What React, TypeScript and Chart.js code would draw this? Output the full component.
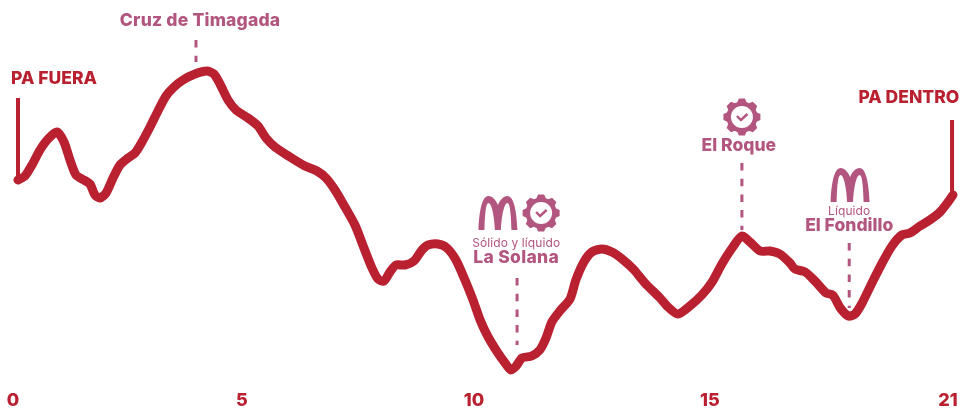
import React, { useEffect, useRef } from "react";
import { Chart, registerables } from "chart.js";

Chart.register(...registerables);

const distanceKm = [0,.157,.314,.494,.674,.876,1.033,1.168,1.303,1.482,1.617,1.729,1.842,1.977,2.134,2.291,2.471,2.628,2.785,2.965,3.144,3.324,3.504,3.706,3.975,4.245,4.402,4.537,4.717,4.896,5.166,5.391,5.570,5.772,6.109,6.446,6.715,6.918,7.120,7.344,7.569,7.771,7.951,8.086,8.220,8.355,8.490,8.692,8.894,9.074,9.209,9.433,9.635,9.837,10.04,10.22,10.38,10.56,10.78,10.94,11.07,11.19,11.32,11.54,11.72,11.86,11.99,12.17,12.40,12.53,12.71,12.89,13.12,13.34,13.57,13.84,14.08,14.42,14.60,14.82,15.09,15.36,15.59,15.81,16.04,16.26,16.44,16.67,16.89,17.11,17.34,17.45,17.68,17.90,18.15,18.30,18.47,18.65,18.80,18.96,19.18,19.41,19.63,19.85,20.03,20.26,20.48,20.71,20.89,21];
const elevation = [195,199,210,225,236,243,233,215,200,195,191,180,177,182,197,210,217,222,233,248,264,279,288,295,301,304,301,291,275,265,257,249,237,228,218,209,204,197,185,168,150,127,107,96,94,103,110,110,114,125,130,131,127,115,95,75,55,38,22,12,5,9,17,19,25,37,53,64,76,95,113,123,126,123,116,105,92,77,68,61,69,80,93,111,127,139,133,124,124,121,112,106,103,94,82,80,67,59,61,72,92,112,129,140,142,149,155,163,173,180];

const tickLabels = ["0", "5", "10", "15", "21"];
const tickPositions = [-0.11, 5.03, 10.24, 15.54, 20.89];

const startPost = [{ x: 0, y: 277 }, { x: 0, y: 193 }];
const finishPost = [{ x: 20.98, y: 255 }, { x: 20.98, y: 180 }];
const markerKm = [3.998, 11.21, 16.26, 18.67];
const markerTop = [335, 97, 212, 132];
const markerBottom = [313, 30, 145, 67];

const X_MIN = -0.404;
const X_MAX = 21.383;

const CRIMSON = "#b92030";
const PINK = "#b2557f";
const FONT = "Inter, 'Noto Sans', sans-serif";

const texts = [
  { t: "PA FUERA", km: 0.81, el: 296, size: 17.5, w: 800, c: CRIMSON, sp: 0 },
  { t: "Cruz de Timagada", km: 4.09, el: 354, size: 17.5, w: 800, c: PINK, sp: 0.2 },
  { t: "PA DENTRO", km: 20.01, el: 277, size: 17.5, w: 800, c: CRIMSON, sp: 0 },
  { t: "Sólido y líquido", km: 11.19, el: 132, size: 12, w: 400, c: PINK, sp: 0.1 },
  { t: "La Solana", km: 11.19, el: 117, size: 17.5, w: 800, c: PINK, sp: 0.3 },
  { t: "El Roque", km: 16.19, el: 229, size: 17.5, w: 800, c: PINK, sp: 0 },
  { t: "Líquido", km: 18.67, el: 164, size: 12, w: 400, c: PINK, sp: 0.1 },
  { t: "El Fondillo", km: 18.67, el: 149, size: 17.5, w: 800, c: PINK, sp: 0 },
];
const arches = [{ km: 10.78, el: 162 }, { km: 18.69, el: 190 }];
const gears = [{ km: 11.75, el: 162 }, { km: 16.26, el: 258 }];

function drawArch(ctx: CanvasRenderingContext2D, x: number, y: number) {
  ctx.save();
  ctx.translate(x, y);
  ctx.fillStyle = PINK;
  ctx.beginPath();
  ctx.moveTo(-19.5, 17);
  ctx.bezierCurveTo(-18.5, -6, -15, -17, -9.5, -17);
  ctx.bezierCurveTo(-5.5, -17, -2, -13, 0, -8);
  ctx.bezierCurveTo(2, -13, 5.5, -17, 9.5, -17);
  ctx.bezierCurveTo(15, -17, 18.5, -6, 19.5, 17);
  ctx.lineTo(13.5, 17);
  ctx.bezierCurveTo(13, 0, 12, -10, 9.5, -10);
  ctx.bezierCurveTo(6, -10, 3.5, 5, 3, 17);
  ctx.lineTo(-3, 17);
  ctx.bezierCurveTo(-3.5, 5, -6, -10, -9.5, -10);
  ctx.bezierCurveTo(-12, -10, -13, 0, -13.5, 17);
  ctx.closePath();
  ctx.fill();
  ctx.restore();
}

function drawGear(ctx: CanvasRenderingContext2D, x: number, y: number) {
  ctx.save();
  ctx.translate(x, y);
  ctx.fillStyle = PINK;
  ctx.beginPath();
  ctx.arc(0, 0, 15.5, 0, Math.PI * 2);
  ctx.fill();
  for (let i = 0; i < 8; i++) {
    ctx.save();
    ctx.rotate((i * Math.PI) / 4);
    ctx.beginPath();
    ctx.moveTo(-5, -14);
    ctx.lineTo(-3, -18.5);
    ctx.lineTo(3, -18.5);
    ctx.lineTo(5, -14);
    ctx.closePath();
    ctx.fill();
    ctx.restore();
  }
  ctx.fillStyle = "#ffffff";
  ctx.beginPath();
  ctx.arc(0, 0, 11, 0, Math.PI * 2);
  ctx.fill();
  ctx.strokeStyle = PINK;
  ctx.lineWidth = 2.4;
  ctx.beginPath();
  ctx.moveTo(-5, -1);
  ctx.lineTo(-1, 3);
  ctx.lineTo(5.5, -3);
  ctx.stroke();
  ctx.restore();
}

const fullWidthPlugin = {
  id: "fullWidthAxis",
  afterLayout(chart: any) {
    const x = chart.scales.x;
    x.min = X_MIN;
    x.max = X_MAX;
    x.left = 0;
    x.right = chart.width;
    x.width = chart.width;
    x.configure();
    chart.chartArea.left = 0;
    chart.chartArea.right = chart.width;
    chart.chartArea.width = chart.width;
  },
};

const labelsPlugin = {
  id: "routeLabels",
  afterDatasetsDraw(chart: any) {
    const { ctx, scales } = chart;
    const px = (km: number) => scales.x.getPixelForValue(km);
    const py = (el: number) => scales.y.getPixelForValue(el);
    ctx.save();
    ctx.textAlign = "center";
    ctx.textBaseline = "middle";
    for (const a of texts) {
      ctx.font = `${a.w} ${a.size}px ${FONT}`;
      ctx.fillStyle = a.c;
      (ctx as any).letterSpacing = `${a.sp}px`;
      ctx.fillText(a.t, px(a.km), py(a.el));
    }
    ctx.restore();
    arches.forEach((a) => drawArch(ctx, px(a.km), py(a.el)));
    gears.forEach((g) => drawGear(ctx, px(g.km), py(g.el)));
  },
};

export default function App() {
  const ref = useRef<HTMLCanvasElement>(null);
  useEffect(() => {
    document.body.style.margin = "0";
    const markerSets = markerKm.map((km, i) => ({
      data: [{ x: km, y: markerTop[i] }, { x: km, y: markerBottom[i] }],
      borderColor: PINK,
      borderWidth: 3,
      borderDash: [7.5, 8.2],
      pointRadius: 0,
    }));
    const chart = new Chart(ref.current!, {
      type: "line",
      data: {
        datasets: [
          ...markerSets,
          {
            label: "Perfil",
            data: distanceKm.map((x, i) => ({ x, y: elevation[i] })),
            borderColor: CRIMSON,
            borderWidth: 9,
            tension: 0.25,
            pointRadius: 0,
            borderCapStyle: "round",
            borderJoinStyle: "round",
          },
          { data: startPost, borderColor: CRIMSON, borderWidth: 4, pointRadius: 0 },
          { data: finishPost, borderColor: CRIMSON, borderWidth: 4, pointRadius: 0 },
        ],
      } as any,
      options: {
        animation: false,
        responsive: false,
        parsing: false,
        normalized: true,
        layout: { padding: 0 },
        plugins: { legend: { display: false }, tooltip: { enabled: false } },
        scales: {
          x: {
            type: "linear",
            bounds: "data",
            min: X_MIN,
            max: X_MAX,
            grid: { display: false, drawTicks: false },
            border: { display: false },
            afterBuildTicks: (s: any) => {
              s.ticks = tickPositions.map((value) => ({ value }));
            },
            afterFit: (s: any) => {
              s.height = 33;
            },
            ticks: {
              autoSkip: false,
              maxRotation: 0,
              padding: 15,
              color: CRIMSON,
              font: { family: FONT, size: 18, weight: 800 },
              callback: (_v: any, i: number) => tickLabels[i],
            },
          },
          y: { type: "linear", min: 0, max: 375, display: false },
        },
      } as any,
      plugins: [fullWidthPlugin, labelsPlugin],
    });
    return () => chart.destroy();
  }, []);
  return <canvas ref={ref} width={970} height={408} style={{ display: "block" }} />;
}
